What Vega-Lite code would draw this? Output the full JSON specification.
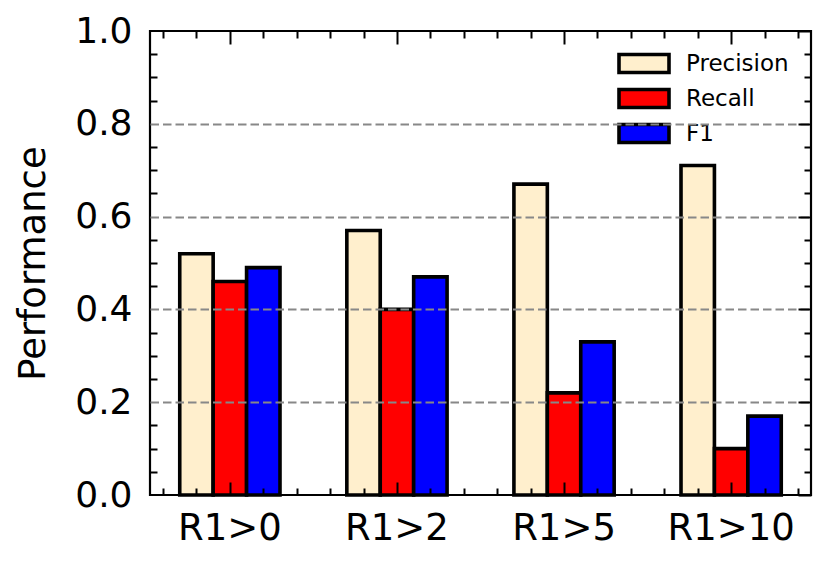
{
  "$schema": "https://vega.github.io/schema/vega-lite/v6.json",
  "width": 661,
  "height": 464,
  "autosize": {"type": "none"},
  "padding": {"left": 150, "top": 31, "right": 18, "bottom": 71},
  "background": "white",
  "config": {
    "font": "DejaVu Sans",
    "view": {"stroke": "black", "strokeWidth": 2.2},
    "axis": {"labelColor": "black", "titleColor": "black", "tickColor": "black", "labelFont": "DejaVu Sans", "titleFont": "DejaVu Sans"}
  },
  "resolve": {"scale": {"x": "independent"}, "axis": {"x": "independent", "y": "independent"}},
  "layer": [
    {
      "data": {"values": [
        {"group": "R1>0", "metric": "Precision", "value": 0.52},
        {"group": "R1>0", "metric": "Recall", "value": 0.46},
        {"group": "R1>0", "metric": "F1", "value": 0.49},
        {"group": "R1>2", "metric": "Precision", "value": 0.57},
        {"group": "R1>2", "metric": "Recall", "value": 0.40},
        {"group": "R1>2", "metric": "F1", "value": 0.47},
        {"group": "R1>5", "metric": "Precision", "value": 0.67},
        {"group": "R1>5", "metric": "Recall", "value": 0.22},
        {"group": "R1>5", "metric": "F1", "value": 0.33},
        {"group": "R1>10", "metric": "Precision", "value": 0.71},
        {"group": "R1>10", "metric": "Recall", "value": 0.10},
        {"group": "R1>10", "metric": "F1", "value": 0.17}
      ]},
      "mark": {"type": "bar", "stroke": "black", "strokeWidth": 3.6, "opacity": 1},
      "encoding": {
        "x": {
          "field": "group", "type": "nominal",
          "sort": ["R1>0", "R1>2", "R1>5", "R1>10"],
          "scale": {"paddingInner": 0.4, "paddingOuter": 0.178},
          "axis": {"orient": "bottom", "title": null, "ticks": false, "domain": false, "labelAngle": 0, "labelFontSize": 37, "labelPadding": 15}
        },
        "xOffset": {
          "field": "metric", "type": "nominal",
          "sort": ["Precision", "Recall", "F1"],
          "scale": {"paddingInner": 0, "paddingOuter": 0}
        },
        "y": {
          "field": "value", "type": "quantitative",
          "scale": {"domain": [0, 1], "nice": false},
          "axis": {
            "orient": "left", "values": [0, 0.2, 0.4, 0.6, 0.8, 1.0], "format": ".1f",
            "ticks": false, "domain": false, "grid": false,
            "labelFontSize": 36, "labelPadding": 18, "labelFlush": false, "labelOverlap": false,
            "title": "Performance", "titleFontSize": 37, "titleFontWeight": "normal",
            "titleX": -117, "titleY": 232, "titleAngle": 270, "titleAlign": "center", "titleBaseline": "middle"
          }
        },
        "color": {
          "field": "metric", "type": "nominal",
          "sort": ["Precision", "Recall", "F1"],
          "scale": {"domain": ["Precision", "Recall", "F1"], "range": ["#FFEFCD", "#FF0000", "#0000FF"]},
          "legend": {
            "title": null, "orient": "none", "legendX": 467, "legendY": 15,
            "padding": 0, "clipHeight": 35, "rowPadding": 0,
            "symbolType": "M-1,-0.36H1V0.36H-1Z", "symbolSize": 2500,
            "symbolStrokeColor": "black", "symbolStrokeWidth": 3.6, "symbolOpacity": 1,
            "labelFontSize": 23, "labelColor": "black", "labelOffset": 15, "labelFont": "DejaVu Sans"
          }
        }
      }
    },
    {
      "data": {"values": []},
      "mark": {"type": "point", "opacity": 0},
      "encoding": {
        "x": {"field": "v", "type": "quantitative", "scale": {"domain": [-0.478, 3.478], "nice": false, "zero": false},
          "axis": {"orient": "bottom", "title": null, "labels": false, "domain": false, "grid": false,
            "values": [-0.4, -0.2, 0.2, 0.4, 0.6, 0.8, 1.2, 1.4, 1.6, 1.8, 2.2, 2.4, 2.6, 2.8, 3.2, 3.4],
            "tickSize": -7, "tickWidth": 2, "zindex": 1}},
        "y": {"field": "w", "type": "quantitative", "scale": {"domain": [0, 1], "nice": false},
          "axis": {"orient": "left", "title": null, "labels": false, "domain": false, "grid": false,
            "values": [0.05, 0.1, 0.15, 0.25, 0.3, 0.35, 0.45, 0.5, 0.55, 0.65, 0.7, 0.75, 0.85, 0.9, 0.95],
            "tickSize": -7, "tickWidth": 2, "zindex": 1}}
      }
    },
    {
      "data": {"values": []},
      "mark": {"type": "point", "opacity": 0},
      "encoding": {
        "x": {"field": "v", "type": "quantitative", "scale": {"domain": [-0.478, 3.478], "nice": false, "zero": false},
          "axis": {"orient": "bottom", "title": null, "labels": false, "domain": false, "grid": false,
            "values": [0, 1, 2, 3], "tickSize": -13, "tickWidth": 2, "zindex": 1}},
        "y": {"field": "w", "type": "quantitative", "scale": {"domain": [0, 1], "nice": false},
          "axis": {"orient": "right", "title": null, "labels": false, "domain": false, "grid": false,
            "values": [0, 0.2, 0.4, 0.6, 0.8, 1.0], "tickSize": -13, "tickWidth": 2, "zindex": 1}}
      }
    },
    {
      "data": {"values": []},
      "mark": {"type": "point", "opacity": 0},
      "encoding": {
        "x": {"field": "v", "type": "quantitative", "scale": {"domain": [-0.478, 3.478], "nice": false, "zero": false},
          "axis": {"orient": "top", "title": null, "labels": false, "domain": false, "grid": false,
            "values": [-0.4, -0.2, 0.2, 0.4, 0.6, 0.8, 1.2, 1.4, 1.6, 1.8, 2.2, 2.4, 2.6, 2.8, 3.2, 3.4],
            "tickSize": -7, "tickWidth": 2, "zindex": 1}},
        "y": {"field": "w", "type": "quantitative", "scale": {"domain": [0, 1], "nice": false},
          "axis": {"orient": "right", "title": null, "labels": false, "domain": false, "grid": false,
            "values": [0.05, 0.1, 0.15, 0.25, 0.3, 0.35, 0.45, 0.5, 0.55, 0.65, 0.7, 0.75, 0.85, 0.9, 0.95],
            "tickSize": -7, "tickWidth": 2, "zindex": 1}}
      }
    },
    {
      "data": {"values": []},
      "mark": {"type": "point", "opacity": 0},
      "encoding": {
        "x": {"field": "v", "type": "quantitative", "scale": {"domain": [-0.478, 3.478], "nice": false, "zero": false},
          "axis": {"orient": "top", "title": null, "labels": false, "domain": false, "grid": false,
            "values": [0, 1, 2, 3], "tickSize": -13, "tickWidth": 2, "zindex": 1}},
        "y": {"field": "w", "type": "quantitative", "scale": {"domain": [0, 1], "nice": false},
          "axis": {"orient": "left", "title": null, "labels": false, "domain": false, "grid": true,
            "values": [0.2, 0.4, 0.6, 0.8], "ticks": false,
            "gridColor": "#888888", "gridWidth": 2, "gridDash": [8.5, 4], "gridOpacity": 1, "zindex": 1}}
      }
    }
  ]
}
